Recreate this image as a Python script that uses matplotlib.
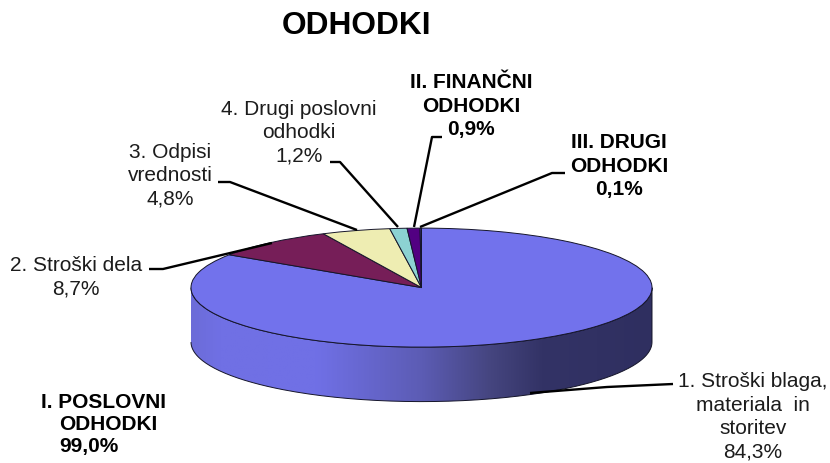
import numpy as np
import matplotlib
matplotlib.use("Agg")
import matplotlib.pyplot as plt
from matplotlib.path import Path
from matplotlib.patches import PathPatch
from matplotlib.colors import LinearSegmentedColormap

plt.rcParams['font.family'] = ['Liberation Sans', 'DejaVu Sans']

title = "ODHODKI"
values = [84.3, 8.7, 4.8, 1.2, 0.9, 0.1]
colors = ['#7272EC', '#761E58', '#EEEDB2', '#8CD2D2', '#520082', '#3A3AA0']
labels = ["1. Stroški blaga,\nmateriala  in\nstoritev\n84,3%", "2. Stroški dela\n8,7%",
          "3. Odpisi\nvrednosti\n4,8%", "4. Drugi poslovni\nodhodki\n1,2%"]
bold_first = "I. POSLOVNI"
bold_first_rest = "ODHODKI\n99,0%"
bold_labels = ["II. FINANČNI\nODHODKI\n0,9%", "III. DRUGI\nODHODKI\n0,1%"]

W, H = 830, 464
CX, CY, RX, RY, DEPTH = 421.5, 288.6, 230.5, 59.5, 54.5

fig = plt.figure(figsize=(W / 100, H / 100), dpi=100, facecolor='white')

# Pie axes: one data unit = RX px horizontally and RY px vertically
ax = fig.add_axes([0, 0, 1, 1])
ax.pie(values, colors=colors, startangle=90, counterclock=False, radius=1, center=(0, 0),
       wedgeprops=dict(edgecolor='#15152a', linewidth=0.7), frame=True)
ax.set_aspect('auto')
ax.set_xlim(-CX / RX, (W - CX) / RX)
ax.set_ylim(-(H - CY) / RY, CY / RY)
ax.axis('off')

# Extruded side with a horizontal gradient
d = DEPTH / RY
t = np.linspace(np.pi, 2 * np.pi, 200)
xs = np.r_[np.cos(t), np.cos(t[::-1])]
ys = np.r_[np.sin(t) - d, np.sin(t[::-1])]
side = Path(np.c_[xs, ys])
cmap = LinearSegmentedColormap.from_list('side', [
    (0.00, '#6C6CD8'), (0.06, '#7070E4'), (0.27, '#7070E6'), (0.50, '#5C5CB4'),
    (0.65, '#45457F'), (0.76, '#333366'), (1.00, '#2F2F60')])
im = ax.imshow(np.linspace(0, 1, 256)[None, :], cmap=cmap, extent=(-1, 1, -1 - d, 0),
               aspect='auto', zorder=0.5, interpolation='bilinear')
ax.set_xlim(-CX / RX, (W - CX) / RX)
ax.set_ylim(-(H - CY) / RY, CY / RY)
patch = PathPatch(side, facecolor='none', edgecolor='#15152a', linewidth=0.7, zorder=0.6)
ax.add_patch(patch)
im.set_clip_path(patch)

# Overlay in pixel coordinates for texts and leader lines
ov = fig.add_axes([0, 0, 1, 1], facecolor='none')
ov.set_xlim(0, W)
ov.set_ylim(H, 0)
ov.axis('off')

leaders = [
    [(530, 394), (607, 388), (673, 385)],
    [(149, 270), (163, 270), (272, 244)],
    [(218, 183), (230, 183), (357, 231)],
    [(330, 163), (340, 163), (398, 228)],
    [(442, 138), (432, 138), (414, 228)],
    [(565, 174), (552, 174), (420, 228)],
]
for pts in leaders:
    p = np.array(pts)
    ov.plot(p[:, 0], p[:, 1], color='black', lw=1.7, solid_capstyle='butt', solid_joinstyle='round')

ov.text(356.5, 26, title, ha='center', va='center', fontsize=22.8, fontweight='bold')

fs = 15
ls = 1.3
tc = '#1c1c1c'
ov.text(753, 417, labels[0], ha='center', va='center', fontsize=fs, linespacing=ls, color=tc)
ov.text(76, 277, labels[1], ha='center', va='center', fontsize=fs, linespacing=ls, color=tc)
ov.text(170, 176, labels[2], ha='center', va='center', fontsize=fs, linespacing=ls, color=tc)
ov.text(299, 133, labels[3], ha='center', va='center', fontsize=fs, linespacing=ls, color=tc)
ov.text(41, 408, bold_first, ha='left', va='baseline', fontsize=fs, fontweight='bold')
ov.text(59, 436, bold_first_rest, ha='left', va='center', fontsize=fs, fontweight='bold', linespacing=1.2)
ov.text(471, 106.5, bold_labels[0], ha='center', va='center', fontsize=fs, fontweight='bold', linespacing=ls)
ov.text(619, 166.5, bold_labels[1], ha='center', va='center', fontsize=fs, fontweight='bold', linespacing=ls)

fig.savefig('out.png', dpi=100, facecolor='white')
